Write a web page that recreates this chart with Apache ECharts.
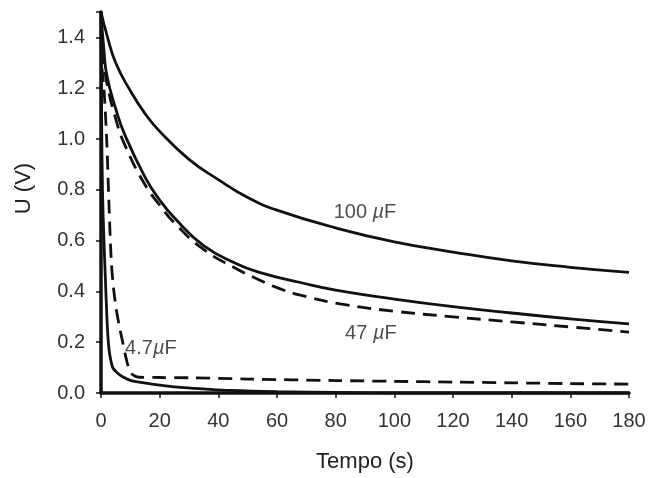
<!DOCTYPE html>
<html>
<head>
<meta charset="utf-8">
<script src="https://cdn.jsdelivr.net/npm/echarts@6/dist/echarts.min.js"></script>
<style>
  html, body { margin: 0; padding: 0; background: #fff; }
  #chart { width: 650px; height: 478px; }
</style>
</head>
<body>
<div id="chart"></div>
<script>
// time axis ticks
const xTicks = [0, 20, 40, 60, 80, 100, 120, 140, 160, 180];

// 100 uF, solid
const t100 = [0, 2, 5, 10, 15, 20, 30, 40, 50, 60, 80, 100, 120, 140, 160, 180];
const u100 = [1.5, 1.41, 1.30, 1.19, 1.10, 1.03, 0.92, 0.84, 0.77, 0.72, 0.65, 0.595, 0.555, 0.52, 0.495, 0.475];

// 47 uF, solid
const t47 = [0, 1, 2, 5, 8, 15, 20, 25, 35, 46, 54, 68, 80, 100, 120, 140, 160, 180];
const u47 = [1.5, 1.35, 1.25, 1.12, 1.02, 0.85, 0.76, 0.69, 0.58, 0.51, 0.475, 0.435, 0.405, 0.37, 0.34, 0.315, 0.292, 0.272];

// 47 uF, dashed
const t47d = [0.3, 1, 2, 5, 8, 15, 20, 25, 35, 46, 54, 60, 68, 82, 100, 120, 140, 160, 180];
const u47d = [1.35, 1.3, 1.22, 1.08, 0.98, 0.82, 0.74, 0.67, 0.565, 0.49, 0.445, 0.415, 0.385, 0.35, 0.322, 0.30, 0.28, 0.26, 0.24];

// 4.7 uF, solid
const t4 = [0, 0.2, 0.5, 1, 1.5, 2, 2.5, 3, 4, 5.5, 7.5, 10, 13, 18, 22, 27, 35, 44, 60, 80, 100, 140, 180];
const u4 = [1.5, 1.1, 0.8, 0.6, 0.45, 0.3, 0.2, 0.15, 0.1, 0.08, 0.063, 0.05, 0.043, 0.034, 0.028, 0.022, 0.016, 0.01, 0.005, 0.002, 0, 0, 0];

// 4.7 uF, dashed
const t4d = [0.3, 1, 2, 2.7, 3.5, 4.3, 5.2, 6.3, 7.4, 8.5, 9.7, 11, 13, 20, 30, 50, 80, 100, 120, 140, 160, 180];
const u4d = [1.28, 1.2, 0.98, 0.75, 0.52, 0.41, 0.33, 0.26, 0.2, 0.14, 0.09, 0.07, 0.062, 0.061, 0.06, 0.055, 0.049, 0.046, 0.043, 0.04, 0.037, 0.035];

// curve labels: [t, U, text]
const curveLabels = [
  [90, 0.71, '100 {m|µ}F'],
  [92, 0.235, '47 {m|µ}F'],
  [17, 0.175, '4.7{m|µ}F']
];

const zip = (xs, ys) => xs.map((x, i) => [x, ys[i]]);

const lineSeries = (data, dashed, width, smooth) => ({
  type: 'line',
  data: data,
  smooth: smooth,
  showSymbol: false,
  silent: true,
  lineStyle: {
    color: '#111',
    width: width,
    type: dashed ? [14, 8] : 'solid'
  }
});

const chart = echarts.init(document.getElementById('chart'));

chart.setOption({
  animation: false,
  grid: { left: 101, right: 21, top: 12, bottom: 85 },
  textStyle: { fontFamily: 'Liberation Sans, Arial, sans-serif' },
  xAxis: {
    type: 'value',
    min: 0,
    max: 180,
    interval: 20,
    name: 'Tempo (s)',
    nameLocation: 'middle',
    nameGap: 58,
    nameTextStyle: { fontSize: 22, color: '#222' },
    axisLine: { lineStyle: { color: '#111', width: 3.5 } },
    axisTick: { length: 5, lineStyle: { color: '#111', width: 1.5 } },
    axisLabel: { fontSize: 20, color: '#333', margin: 18 },
    splitLine: { show: false }
  },
  yAxis: {
    type: 'value',
    min: 0,
    max: 1.5,
    interval: 0.2,
    name: 'U (V)',
    nameLocation: 'middle',
    nameGap: 66,
    nameTextStyle: { fontSize: 22, color: '#222', padding: [0, 0, 0, 28] },
    axisLine: { lineStyle: { color: '#111', width: 3.5 } },
    axisTick: { length: 5, lineStyle: { color: '#111', width: 1.5 } },
    axisLabel: {
      fontSize: 20,
      color: '#333',
      margin: 16,
      formatter: v => (v > 1.45 ? '' : v.toFixed(1))
    },
    splitLine: { show: false }
  },
  series: [
    lineSeries(zip(t100, u100), false, 2.8, 0.5),
    lineSeries(zip(t47, u47), false, 2.8, 0.5),
    lineSeries(zip(t47d, u47d), true, 2.8, 0.5),
    lineSeries(zip(t4, u4), false, 2.8, 0.3),
    lineSeries(zip(t4d, u4d), true, 2.8, 0.3),
    {
      type: 'scatter',
      symbolSize: 0,
      silent: true,
      data: curveLabels,
      label: {
        show: true,
        position: 'inside',
        fontSize: 20,
        color: '#222',
        formatter: p => p.data[2],
        rich: { m: { fontSize: 20, fontStyle: 'italic', color: '#222' } }
      }
    }
  ]
});
</script>
</body>
</html>
